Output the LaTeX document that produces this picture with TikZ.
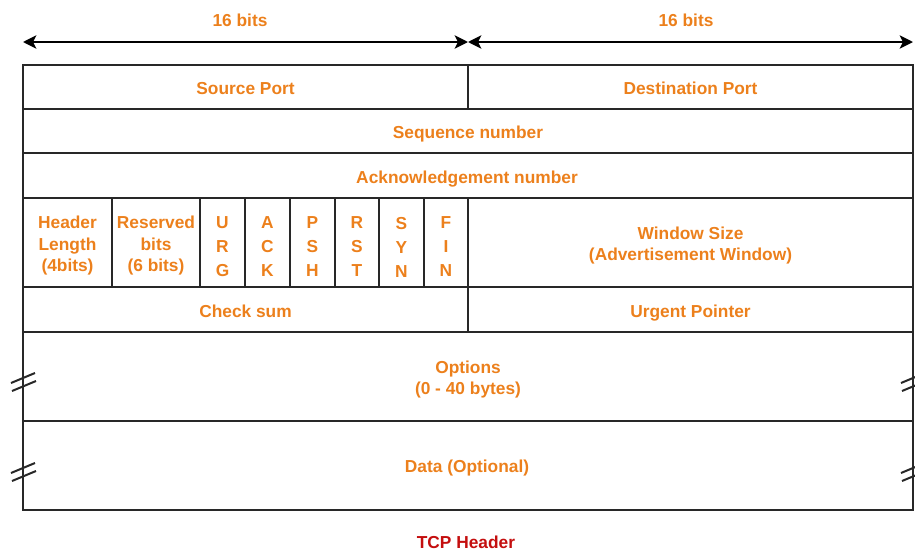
\documentclass[tikz,border=0pt]{standalone}
\usepackage{fontspec}
\setmainfont{Liberation Sans}
\usetikzlibrary{arrows.meta}
\definecolor{hdrorange}{RGB}{236,128,28}
\definecolor{hdrred}{RGB}{196,14,14}
\definecolor{hdrline}{RGB}{40,40,40}
\newcommand{\cellstrut}{\rule[-3pt]{0pt}{15.3pt}}
\tikzset{every picture/.style={line width=0.75pt}}
\tikzset{
  lbl/.style={inner sep=0pt, align=center, text=hdrorange, font=\bfseries\fontsize{13}{16}\selectfont,
    execute at begin node=\cellstrut, execute at end node=\cellstrut},
  flag/.style={lbl, font=\bfseries\fontsize{13}{18}\selectfont},
  cell/.style={draw=hdrline, line width=1.5pt},
  brk/.style={draw=hdrline, line width=1.5pt},
  span/.style={draw=black, line width=1.5pt, {Stealth[length=10pt,width=10pt,inset=2.5pt]}-{Stealth[length=10pt,width=10pt,inset=2.5pt]}}
}

\begin{document}
\begin{tikzpicture}[x=0.75pt,y=0.75pt,yscale=-1,xscale=1]
\useasboundingbox (0,0) rectangle (915,550);

%Bit width arrows
\coordinate (lend) at (23,42);
\coordinate (mid) at (468,42);
\coordinate (rend) at (913,42);
\draw [span] (lend) -- (mid);
\draw [span] (mid) -- (rend);

%Shape: Outer frame
\draw [cell] (23,65) rectangle (913,510);
%Row separators
\draw [cell] (23,109) -- (913,109);
\draw [cell] (23,153) -- (913,153);
\draw [cell] (23,198) -- (913,198);
\draw [cell] (23,287) -- (913,287);
\draw [cell] (23,332) -- (913,332);
\draw [cell] (23,421) -- (913,421);
%Column separators
\draw [cell] (468,65) -- (468,109);
\draw [cell] (468,198) -- (468,332);
\foreach \x in {112,200,245,290,335,379,424}
  \draw [cell] (\x,198) -- (\x,287);

%Break marks
\draw [brk] (11,383) -- (35,373);
\draw [brk] (12,391) -- (36,381);
\draw [brk] (11,473) -- (35,463);
\draw [brk] (12,481) -- (36,471);
\draw [brk] (901,383) -- (925,373);
\draw [brk] (902,391) -- (926,381);
\draw [brk] (901,473) -- (925,463);
\draw [brk] (902,481) -- (926,471);

% Text Node
\node [lbl] (lbits) at (240,20) {16 bits};
\node [lbl] (rbits) at (686,20) {16 bits};
\node [lbl] (srcport) at (245.5,88) {Source Port};
\node [lbl] (dstport) at (690.5,88) {Destination Port};
\node [lbl] (seqnum) at (468,132) {Sequence number};
\node [lbl] (acknum) at (467,177) {Acknowledgement number};
\node [lbl] (hdrlen) at (67.5,246) {Header\\Length\\(4bits)};
\node [lbl] (resv) at (156,246) {Reserved\\bits\\(6 bits)};
\node [flag] (urg) at (222.5,249) {U\\R\\G};
\node [flag] (ack) at (267.5,249) {A\\C\\K};
\node [flag] (psh) at (312.5,249) {P\\S\\H};
\node [flag] (rst) at (357,249) {R\\S\\T};
\node [flag] (syn) at (401.5,249) {S\\Y\\N};
\node [flag] (fin) at (446,249) {F\\I\\N};
\node [lbl] (window) at (690.5,246) {Window Size\\(Advertisement Window)};
\node [lbl] (chksum) at (245.5,311) {Check sum};
\node [lbl] (urgptr) at (690.5,311) {Urgent Pointer};
\node [lbl] (options) at (468,380) {Options\\(0 - 40 bytes)};
\node [lbl] (data) at (467,466) {Data (Optional)};
\node [lbl, text=hdrred] (caption) at (466,542) {TCP Header};
\end{tikzpicture}
\end{document}
